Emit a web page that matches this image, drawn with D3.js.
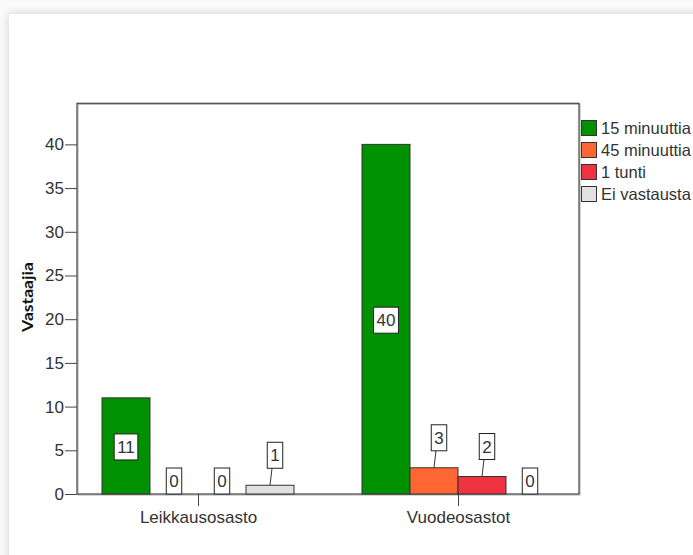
<!DOCTYPE html>
<html><head><meta charset="utf-8">
<script src="https://cdn.jsdelivr.net/npm/d3@7"></script>
<style>body{margin:0;background:#fff;overflow:hidden}svg{display:block}</style>
</head><body>
<script>
const categories = ["Leikkausosasto", "Vuodeosastot"];
const seriesNames = ["15 minuuttia", "45 minuuttia", "1 tunti", "Ei vastausta"];
const leikkausosasto = [11, 0, 0, 1];
const vuodeosastot = [40, 3, 2, 0];
const yTicks = [0, 5, 10, 15, 20, 25, 30, 35, 40];
const colors = ["#009100", "#ff6633", "#ef3340", "#e1e1e1"];
const yTitle = "Vastaajia";

(function () {
const rows = [leikkausosasto, vuodeosastot];
const W = 693, H = 555;
const svg = d3.select("body").append("svg").attr("width", W).attr("height", H);

// background card with shadow
const defs = svg.append("defs");
const f = defs.append("filter").attr("id", "sh").attr("x", "-10%").attr("y", "-10%").attr("width", "130%").attr("height", "130%");
f.append("feGaussianBlur").attr("in", "SourceAlpha").attr("stdDeviation", 5).attr("result", "b");
f.append("feOffset").attr("in", "b").attr("dx", 0).attr("dy", 0).attr("result", "o");
f.append("feComponentTransfer").attr("in", "o").attr("result", "t").append("feFuncA").attr("type", "linear").attr("slope", 0.18);
const m = f.append("feMerge"); m.append("feMergeNode").attr("in", "t"); m.append("feMergeNode").attr("in", "SourceGraphic");
svg.append("rect").attr("width", W).attr("height", H).attr("fill", "#fafafa");
svg.append("rect").attr("x", 9).attr("y", 14).attr("width", W + 40).attr("height", H + 40).attr("fill", "#fff").attr("filter", "url(#sh)");

const pLeft = 77, pRight = 579, pTop = 103.3, base = 494;
const x = d3.scalePoint().domain(categories).range([pLeft, pRight]).padding(0.4654);
const xs = d3.scaleBand().domain(seriesNames).range([-96, 96]).padding(0);
const y = d3.scaleLinear().domain([0, 44.7]).range([base, pTop]);

const txt = "#333";
const font = "'Liberation Sans', Arial, sans-serif";

// frame
svg.append("rect").attr("x", pLeft + 1).attr("y", pTop + 1).attr("width", pRight - pLeft).attr("height", base - pTop)
  .attr("fill", "none").attr("stroke", "#aaa").attr("stroke-width", 1);
svg.append("rect").attr("x", pLeft).attr("y", pTop).attr("width", pRight - pLeft).attr("height", base - pTop)
  .attr("fill", "none").attr("stroke", "#444").attr("stroke-width", 1.2);

// y axis
const yAxis = d3.axisLeft(y).tickValues(yTicks).tickSize(12).tickPadding(1);
const gy = svg.append("g").attr("transform", `translate(${pLeft},0)`).call(yAxis);
gy.select(".domain").remove();
gy.selectAll("line").attr("stroke", "#444");
gy.selectAll("text").attr("font-family", font).attr("font-size", 17).attr("fill", txt);

// x axis
const xAxis = d3.axisBottom(x).tickSize(12).tickPadding(5);
const gx = svg.append("g").attr("transform", `translate(0,${base})`).call(xAxis);
gx.select(".domain").remove();
gx.selectAll("line").attr("stroke", "#444");
gx.selectAll("text").attr("font-family", font).attr("font-size", 17).attr("fill", txt);

// y title
svg.append("text").attr("transform", `translate(33,297) rotate(-90)`).attr("text-anchor", "middle")
  .attr("font-family", "Lato, 'Open Sans', sans-serif").attr("font-weight", "bold").attr("font-size", 15.5).attr("fill", "#111")
  .attr("textLength", 70).attr("lengthAdjust", "spacingAndGlyphs")
  .text(yTitle);

// bars
const data = [];
categories.forEach((c, i) => seriesNames.forEach((s, j) => data.push({c, s, j, v: rows[i][j]})));
const gb = svg.append("g");
gb.selectAll("rect").data(data.filter(d => d.v > 0)).join("rect")
  .attr("x", d => x(d.c) + xs(d.s)).attr("width", xs.bandwidth())
  .attr("y", d => y(d.v)).attr("height", d => base - y(d.v))
  .attr("fill", d => colors[d.j]).attr("stroke", "#333").attr("stroke-width", 1);

// labels
const boxH = 26;
const gl = svg.append("g");
data.forEach(d => {
  const cx = x(d.c) + xs(d.s) + xs.bandwidth() / 2;
  const barH = base - y(d.v);
  const g = gl.append("g");
  const t = g.append("text").attr("font-family", font).attr("font-size", 17).attr("fill", txt)
    .attr("text-anchor", "middle").text(d.v);
  const tw = t.node().getComputedTextLength();
  const bw = tw + 6;
  let bx, by;
  if (d.v === 0) { bx = cx; by = base - boxH / 2; }
  else if (barH >= boxH + 8) { bx = cx; by = (y(d.v) + base) / 2 + 1; }
  else {
    bx = cx + 5; by = y(d.v) - 17 - boxH / 2;
    g.insert("line", "text").attr("x1", cx).attr("y1", y(d.v)).attr("x2", bx - 3).attr("y2", by + boxH / 2)
      .attr("stroke", "#333").attr("stroke-width", 1);
  }
  g.insert("rect", "text").attr("x", bx - bw / 2).attr("y", by - boxH / 2).attr("width", bw).attr("height", boxH)
    .attr("fill", "#fff").attr("stroke", "#222").attr("stroke-width", 1);
  t.attr("x", bx).attr("y", by).attr("dy", "0.36em");
});

// legend
const lg = svg.append("g");
seriesNames.forEach((s, i) => {
  const yy = 120.5 + i * 22;
  lg.append("rect").attr("x", 581.5).attr("y", yy).attr("width", 15).attr("height", 15)
    .attr("fill", colors[i]).attr("stroke", "#333").attr("stroke-width", 1);
  lg.append("text").attr("x", 601).attr("y", yy + 7.5).attr("dy", "0.36em")
    .attr("font-family", font).attr("font-size", 16.5).attr("fill", txt).text(s);
});
})();
</script>
</body></html>
